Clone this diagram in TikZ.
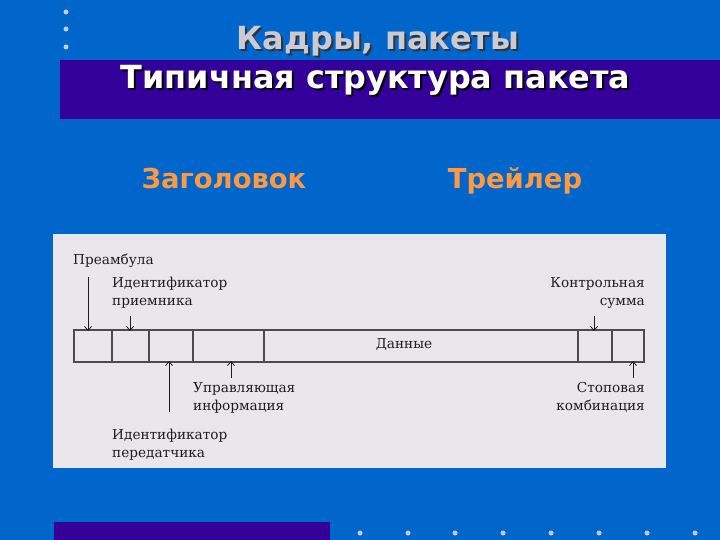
\documentclass[tikz,border=0pt]{standalone}
\usepackage{fontspec}
\setmainfont{DejaVu Sans}
\newfontfamily\titlefont{DejaVu Sans}
\newfontfamily\diagfont{DejaVu Serif}
\definecolor{bgblue}{HTML}{0066CC}
\definecolor{bandpurple}{HTML}{330099}
\definecolor{dotgrey}{HTML}{C4CCE4}
\definecolor{paneltint}{HTML}{E9E7EB}
\definecolor{orangetxt}{HTML}{FF9940}
\definecolor{titlegrey}{HTML}{CACAD4}
\definecolor{inkgrey}{HTML}{1E1E1E}
\usetikzlibrary{arrows.meta}
\tikzset{
  x=1bp, y=-1bp,
  dotmark/.style={fill=dotgrey, draw=none, circle, inner sep=0pt, minimum size=5bp},
  field/.style={draw=inkgrey!80, line width=1.4bp},
  lab/.style={font=\diagfont\fontsize{13.7}{17.5}\selectfont, text=inkgrey, inner sep=0pt},
  pin/.style={draw=inkgrey, line width=0.8bp, -{Straight Barb[length=4bp,width=7bp]}},
  hdr/.style={font=\titlefont\bfseries\fontsize{27.5}{32}\selectfont, text=orangetxt, inner sep=0pt},
  ttl/.style={font=\titlefont\bfseries\fontsize{32}{36}\selectfont, inner sep=0pt, anchor=base},
}
\begin{document}
\begin{tikzpicture}
\useasboundingbox (0,0) rectangle (720,540);
\fill[bgblue] (0,0) rectangle (720,540);
% top-left dots
\foreach \yy/\nm in {12/da,29/db,47/dc} \node[dotmark] (\nm) at (66,\yy) {};
% title band
\fill[bandpurple] (60,60) rectangle (720,119);
% titles (with drop shadows)
\node[ttl, text=black!80] (t1s) at (380,52) {Кадры, пакеты};
\node[ttl, text=titlegrey] (t1) at (378,50) {Кадры, пакеты};
\node[ttl, text=black] (t2s) at (377.5,91) {Типичная структура пакета};
\node[ttl, text=white] (t2) at (375.5,89) {Типичная структура пакета};
% header / trailer
\node[hdr, anchor=base] (hz) at (224,189) {Заголовок};
\node[hdr, anchor=base] (ht) at (515,189) {Трейлер};
% panel
\fill[paneltint] (53,234) rectangle (666,468);
% packet fields
\draw[field] (74,330) rectangle (644,362);
\foreach \xx in {112,149,193,264,578,612}
  \draw[field] (\xx,330) -- (\xx,362);
\node[lab] (data) at (404,345) {Данные};
% labels (anchor = baseline of the last line)
\node[lab, anchor=base west] (pre) at (73,265) {Преамбула};
\node[lab, anchor=base west, align=left] (idr) at (112,305) {Идентификатор\\приемника};
\node[lab, anchor=base west, align=left] (ctl) at (193,410) {Управляющая\\информация};
\node[lab, anchor=base west, align=left] (idt) at (112,457) {Идентификатор\\передатчика};
\node[lab, anchor=base east, align=right] (crc) at (645,305) {Контрольная\\сумма};
\node[lab, anchor=base east, align=right] (stp) at (645,410) {Стоповая\\комбинация};
% pointer coordinates
\coordinate (a1s) at (88,277); \coordinate (a1e) at (88,331);
\coordinate (a2s) at (130,316); \coordinate (a2e) at (130,331);
\coordinate (a3s) at (169,412); \coordinate (a3e) at (169,361);
\coordinate (a4s) at (231,378); \coordinate (a4e) at (231,361);
\coordinate (a5s) at (594,316); \coordinate (a5e) at (594,331);
\coordinate (a6s) at (633,378); \coordinate (a6e) at (633,361);
\draw[pin] (a1s) -- (a1e);
\draw[pin] (a2s) -- (a2e);
\draw[pin] (a3s) -- (a3e);
\draw[pin] (a4s) -- (a4e);
\draw[pin] (a5s) -- (a5e);
\draw[pin] (a6s) -- (a6e);
% bottom band and dots
\fill[bandpurple] (54,522) rectangle (330,540);
\foreach \xx [count=\i] in {360,408,455,503,551,599,647,695} \node[dotmark] (bd\i) at (\xx,533) {};
\end{tikzpicture}
\end{document}
